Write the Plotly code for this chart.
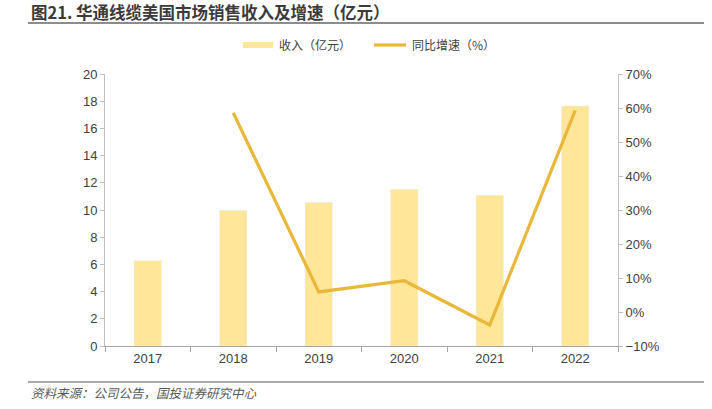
import plotly.graph_objects as go

years = ["2017", "2018", "2019", "2020", "2021", "2022"]
revenue = [6.27, 9.96, 10.55, 11.52, 11.09, 17.65]
growth = [None, 58.6, 5.9, 9.2, -3.8, 59.3]

bar_color = "#FFE699"
line_color = "#E9B73A"
tick_color = "#404040"
axis_color = "#A6A6A6"
cjk = "Noto Sans CJK SC"
num_font = "Liberation Sans"

fig = go.Figure()
fig.add_trace(go.Bar(x=years, y=revenue, marker_color=bar_color, width=0.32,
                     name="收入（亿元）", showlegend=False))
fig.add_trace(go.Scatter(x=years, y=growth, mode="lines", yaxis="y2",
                         line=dict(color=line_color, width=3.2),
                         name="同比增速（%）", showlegend=False, connectgaps=False))

fig.update_layout(
    width=712, height=409,
    margin=dict(l=105, r=94, t=74, b=63),
    paper_bgcolor="white", plot_bgcolor="white",
    xaxis=dict(type="category", showline=True, linecolor=axis_color, linewidth=1,
               ticks="outside", tickson="boundaries", ticklen=5, tickcolor=axis_color,
               tickfont=dict(family=num_font, size=13, color=tick_color),
               showgrid=False),
    yaxis=dict(range=[0, 20], dtick=2, showline=True, linecolor="#BFBFBF", linewidth=1,
               ticks="outside", ticklen=4, tickcolor="#BFBFBF", showgrid=False,
               zeroline=False,
               tickfont=dict(family=num_font, size=13, color=tick_color)),
    yaxis2=dict(range=[-10, 70], dtick=10, overlaying="y", side="right",
                ticksuffix="%", showline=True, linecolor="#BFBFBF", linewidth=1,
                ticks="outside", ticklen=4, tickcolor="#BFBFBF", showgrid=False,
                zeroline=False,
                tickfont=dict(family=num_font, size=13, color=tick_color)),
)

W, H = 712, 409
pw = W - 105 - 94
ph = H - 74 - 63

def px(x):
    return (x - 105) / pw

def py(y):
    return (H - 63 - y) / ph

shapes = [
    dict(type="line", xref="paper", yref="paper", x0=px(28), x1=px(704), y0=py(23), y1=py(23),
         line=dict(color="#8C8C8C", width=2)),
    dict(type="line", xref="paper", yref="paper", x0=px(28), x1=px(704), y0=py(382), y1=py(382),
         line=dict(color="#8C8C8C", width=1.5)),
    dict(type="rect", xref="paper", yref="paper", x0=px(243), x1=px(273), y0=py(48), y1=py(42),
         fillcolor=bar_color, line=dict(width=0)),
    dict(type="line", xref="paper", yref="paper", x0=px(374), x1=px(406), y0=py(45), y1=py(45),
         line=dict(color=line_color, width=3.2)),
]
fig.update_layout(shapes=shapes)

annotations = [
    dict(text="<b>图21. 华通线缆美国市场销售收入及增速（亿元）</b>", xref="paper", yref="paper",
         x=px(29), y=py(12), xanchor="left", yanchor="middle", showarrow=False,
         font=dict(family=cjk, size=16.5, color="#3A3A3A")),
    dict(text="收入（亿元）", xref="paper", yref="paper", x=px(277), y=py(45),
         xanchor="left", yanchor="middle", showarrow=False,
         font=dict(family=cjk, size=12, color="#404040")),
    dict(text="同比增速（%）", xref="paper", yref="paper", x=px(410), y=py(45),
         xanchor="left", yanchor="middle", showarrow=False,
         font=dict(family=cjk, size=12, color="#404040")),
    dict(text="<i>资料来源：公司公告，国投证券研究中心</i>", xref="paper", yref="paper",
         x=px(29), y=py(392), xanchor="left", yanchor="middle", showarrow=False,
         font=dict(family=cjk, size=12.5, color="#595959")),
]
fig.update_layout(annotations=annotations)

fig.write_html("out.html", config={"displayModeBar": False},
               post_script="document.body.style.margin='0';document.body.style.overflow='hidden';")
